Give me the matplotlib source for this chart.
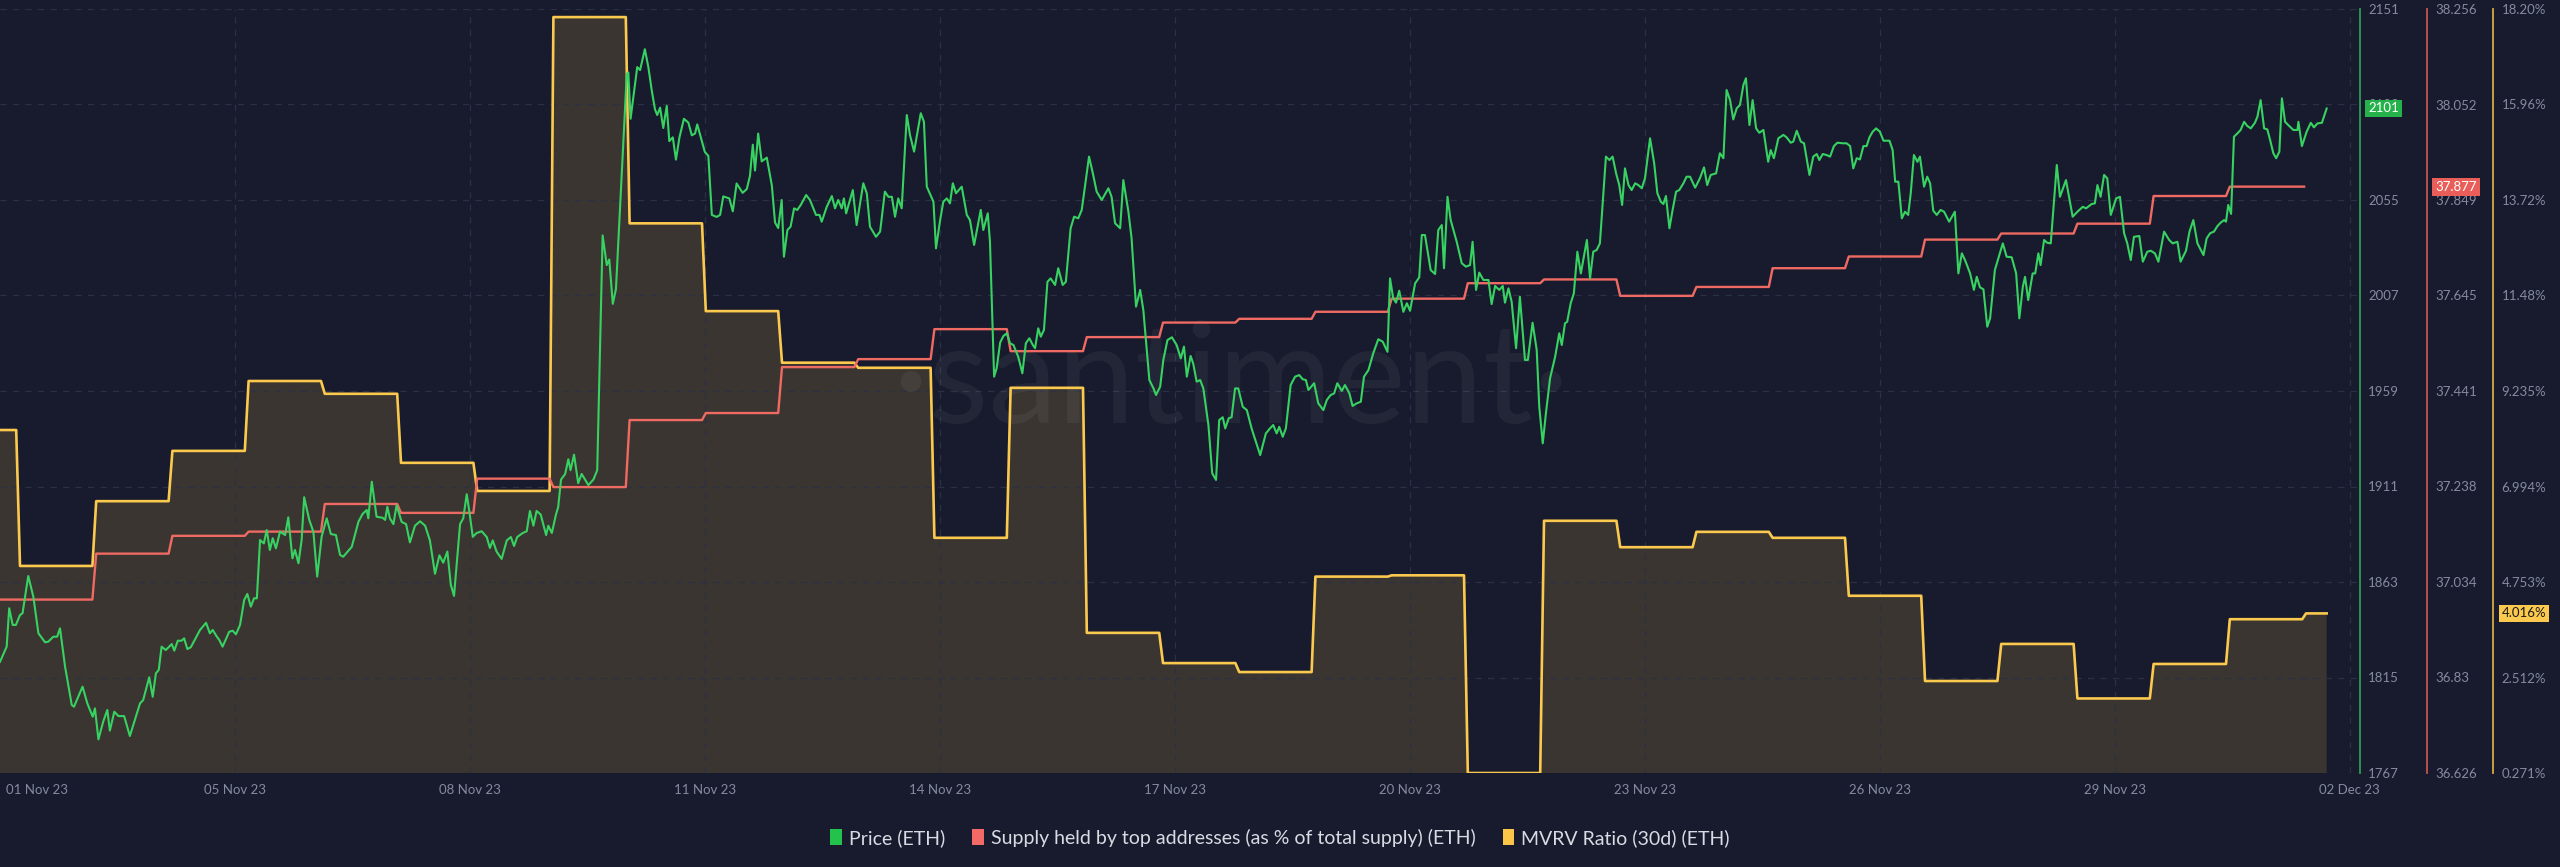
import numpy as np
import matplotlib
matplotlib.use("Agg")
import matplotlib.pyplot as plt
from matplotlib.patches import Patch

plt.rcParams['font.family'] = ['Lato', 'DejaVu Sans']

# ---------------- data ----------------
# ETH price (x = hours since chart start)
price_hours = [
    0.0, 2.1, 2.9, 4.0, 5.0, 6.3, 7.1, 8.9, 10.5, 12.1, 14.2, 15.2, 16.8, 18.0, 18.9, 20.5,
    22.6, 23.3, 26.0, 27.5, 29.2, 29.9, 31.0, 32.5, 33.8, 34.6, 36.0, 37.3, 39.1, 40.9, 44.1, 45.1,
    47.0, 48.1, 49.1, 50.0, 50.9, 52.2, 54.1, 54.9, 56.0, 57.2, 58.0, 59.0, 60.1, 63.0, 64.9, 66.1,
    67.0, 68.3, 69.1, 70.1, 72.2, 73.3, 74.3, 75.6, 76.9, 77.9, 79.0, 80.0, 80.9, 81.9, 83.1, 84.0,
    85.0, 85.9, 86.9, 88.2, 89.8, 90.8, 92.1, 92.9, 94.0, 95.0, 95.8, 97.4, 98.7, 99.9, 101.3, 102.9,
    104.2, 105.8, 107.1, 108.1, 110.8, 112.9, 114.2, 115.5, 116.0, 117.1, 118.6, 120.5, 121.3, 122.0, 122.8, 123.9,
    124.9, 126.5, 127.9, 129.1, 130.7, 132.3, 133.9, 135.4, 137.0, 138.4, 139.6, 140.9, 142.0, 143.0, 144.9, 145.9,
    147.0, 147.8, 148.9, 150.1, 151.7, 153.3, 154.3, 155.2, 156.4, 158.0, 159.6, 160.9, 161.9, 162.9, 164.6, 165.9,
    166.9, 168.0, 169.0, 170.3, 172.0, 172.7, 173.8, 175.1, 175.8, 176.7, 178.0, 179.0, 179.7, 180.8, 182.1, 183.2,
    185.3, 186.9, 188.1, 189.8, 191.1, 191.9, 193.0, 194.0, 197.4, 197.9, 198.6, 200.7, 201.6, 203.1, 204.2, 205.3,
    206.3, 207.0, 207.9, 208.9, 210.0, 210.8, 211.9, 212.9, 214.0, 215.4, 216.8, 217.9, 218.9, 219.6, 222.0, 223.1,
    224.2, 225.7, 226.8, 227.8, 229.7, 230.8, 232.0, 233.9, 235.2, 236.2, 237.1, 237.8, 238.8, 239.9, 241.5, 243.1,
    244.1, 245.1, 246.2, 246.9, 248.0, 249.0, 250.1, 251.1, 252.2, 253.9, 255.1, 257.0, 258.1, 258.8, 260.4, 262.0,
    263.0, 264.0, 265.1, 265.8, 266.5, 268.6, 269.8, 271.9, 273.0, 274.0, 275.9, 277.2, 278.7, 279.8, 280.9, 281.9,
    282.9, 284.0, 285.6, 286.6, 287.9, 290.0, 291.0, 291.9, 294.0, 294.8, 296.1, 297.1, 298.2, 299.2, 300.1, 301.1,
    302.9, 304.5, 305.5, 306.8, 308.9, 309.7, 311.1, 311.8, 313.1, 313.9, 315.0, 316.0, 317.1, 318.1, 319.2, 320.7,
    322.0, 323.1, 324.2, 325.3, 326.0, 327.0, 327.8, 328.8, 329.9, 330.9, 332.3, 333.3, 334.7, 335.7, 337.2, 338.3,
    339.6, 340.7, 343.0, 344.2, 345.4, 347.0, 349.1, 350.1, 351.2, 352.8, 353.8, 355.4, 356.4, 357.8, 359.1, 360.1,
    362.0, 363.3, 364.1, 365.4, 366.4, 367.7, 369.1, 370.6, 371.9, 372.9, 373.8, 375.0, 375.8, 376.9, 378.0, 379.0,
    380.6, 381.8, 383.0, 384.0, 385.1, 385.9, 387.0, 387.9, 389.0, 390.0, 391.4, 392.7, 394.2, 396.9, 398.7, 400.0,
    401.0, 402.1, 402.9, 404.0, 405.0, 406.5, 407.9, 409.2, 410.3, 411.3, 412.1, 413.9, 415.2, 416.8, 417.9, 419.1,
    420.2, 421.2, 422.6, 423.6, 425.0, 426.0, 427.3, 428.6, 429.6, 431.0, 432.5, 434.1, 435.5, 437.0, 437.8, 438.8,
    439.7, 440.7, 442.0, 443.1, 444.1, 445.7, 447.0, 447.8, 448.8, 450.6, 452.0, 453.0, 454.1, 454.8, 455.9, 456.9,
    458.8, 460.4, 461.7, 463.0, 463.8, 464.9, 465.9, 467.2, 468.8, 469.8, 470.9, 472.2, 473.3, 474.0, 475.1, 476.1,
    477.5, 478.7, 480.3, 481.2, 482.7, 484.0, 484.8, 485.9, 486.9, 488.2, 489.8, 491.1, 491.9, 492.9, 493.6, 494.7,
    495.7, 496.8, 497.9, 499.8, 500.8, 501.8, 502.9, 503.9, 505.8, 506.9, 507.9, 509.0, 510.0, 510.9, 511.8, 512.9,
    513.9, 515.0, 516.0, 517.1, 518.1, 519.7, 521.0, 522.0, 523.1, 523.9, 524.7, 525.8, 526.8, 527.9, 528.9, 530.2,
    531.2, 532.3, 533.9, 535.4, 536.7, 537.7, 538.8, 540.5, 541.7, 542.8, 543.8, 544.9, 545.9, 547.0, 548.0, 549.1,
    549.9, 551.0, 552.0, 553.1, 554.1, 555.4, 556.9, 557.7, 558.7, 560.1, 561.7, 562.7, 564.0, 564.8, 565.9, 567.2,
    568.2, 569.9, 571.1, 572.2, 573.0, 574.1, 575.3, 576.4, 577.6, 578.7, 580.4, 581.6, 582.7, 583.7, 584.8, 585.8,
    586.9, 587.9, 588.8, 589.8, 590.9, 592.1, 593.2, 595.1, 596.1, 596.9, 597.9, 599.0, 600.0, 601.0, 601.8, 602.8,
    603.9, 604.7, 606.0, 607.0, 607.9, 608.9, 610.0, 611.2, 612.3, 613.9, 615.7, 616.8, 617.9, 618.9, 620.5, 621.7,
    622.6, 623.6, 624.7, 625.9, 626.8, 628.3, 630.8, 632.0, 633.6, 635.0, 636.0, 637.1, 637.8, 638.8, 640.2, 641.0,
    642.0, 642.7, 643.8, 644.8, 645.9, 647.8, 648.8, 650.7, 652.8, 654.3, 656.0, 657.0, 658.8, 659.8, 660.6, 661.6,
    662.7, 663.7, 664.8, 666.5, 667.7, 669.0, 670.0, 671.1, 672.1, 673.8, 674.9, 676.3, 677.4, 678.7, 679.8, 681.6,
    683.2, 684.3, 685.8, 686.8, 688.5, 689.6, 690.8, 692.1, 694.0, 695.0, 696.1, 697.3, 698.4, 699.4, 700.5, 701.1,
    701.8, 702.7, 703.6, 704.7, 705.7, 706.8, 707.8, 708.9, 710.2, 711.0, 712.0, 713.1, 714.1, 715.0, 716.0, 716.9,
    717.9, 718.7, 719.7, 721.0, 722.3, 723.6, 723.9, 725.0, 726.5, 727.8, 728.8, 729.9, 731.3, 732.8,
]
price_usd = [
    1822.9, 1830.5, 1849.8, 1841.4, 1841.4, 1846.4, 1847.3, 1866.0, 1855.6, 1837.2, 1832.7, 1833.0, 1835.5, 1835.5, 1839.7, 1820.4,
    1801.2, 1800.3, 1810.4, 1802.0, 1795.3, 1799.5, 1783.9, 1792.8, 1798.7, 1788.3, 1797.8, 1795.6, 1795.6, 1785.6, 1802.0, 1803.7,
    1815.1, 1805.3, 1817.1, 1818.8, 1830.5, 1828.8, 1831.8, 1828.5, 1833.5, 1833.5, 1834.7, 1829.3, 1830.2, 1838.9, 1842.5, 1837.2,
    1838.9, 1835.5, 1833.8, 1830.5, 1838.0, 1838.5, 1836.7, 1841.4, 1853.9, 1857.0, 1850.6, 1854.8, 1854.8, 1884.1, 1882.4, 1889.1,
    1879.1, 1885.0, 1879.9, 1888.3, 1886.6, 1895.5, 1874.9, 1879.1, 1872.4, 1884.1, 1905.6, 1894.2, 1888.3, 1865.7, 1885.8, 1895.0,
    1887.1, 1886.6, 1876.6, 1875.7, 1880.7, 1893.3, 1897.2, 1899.2, 1895.0, 1913.4, 1895.8, 1895.3, 1894.2, 1900.8, 1895.0, 1892.1,
    1901.5, 1893.2, 1892.1, 1882.9, 1891.3, 1893.5, 1891.3, 1883.9, 1867.1, 1876.4, 1872.7, 1878.3, 1861.5, 1856.0, 1892.1, 1895.0,
    1907.1, 1898.7, 1885.7, 1887.6, 1888.5, 1885.6, 1880.1, 1883.9, 1878.3, 1874.6, 1883.9, 1885.6, 1881.1, 1885.6, 1887.6, 1888.5,
    1898.7, 1891.3, 1898.7, 1896.9, 1886.6, 1891.3, 1887.6, 1896.9, 1900.6, 1914.5, 1917.3, 1924.7, 1919.2, 1927.0, 1912.7, 1917.3,
    1911.7, 1914.5, 1919.2, 2037.2, 2022.3, 2025.1, 2002.8, 2010.3, 2118.1, 2119.1, 2095.8, 2121.8, 2120.3, 2130.8, 2121.8, 2109.8,
    2100.5, 2097.7, 2101.4, 2091.2, 2102.3, 2084.6, 2086.5, 2075.3, 2086.5, 2095.8, 2093.9, 2087.5, 2088.4, 2093.0, 2079.1, 2077.2,
    2047.5, 2046.5, 2047.5, 2056.8, 2055.8, 2049.3, 2063.3, 2058.6, 2060.5, 2067.1, 2082.8, 2069.8, 2088.4, 2074.4, 2076.3, 2062.3,
    2043.7, 2040.9, 2055.0, 2026.5, 2039.9, 2041.6, 2050.8, 2050.0, 2052.5, 2057.5, 2055.0, 2047.5, 2047.5, 2044.1, 2051.6, 2057.0,
    2050.8, 2055.0, 2050.8, 2055.8, 2048.3, 2060.0, 2042.4, 2063.4, 2058.4, 2041.6, 2036.5, 2039.1, 2059.2, 2056.6, 2056.6, 2046.6,
    2055.8, 2050.8, 2097.7, 2087.7, 2079.3, 2098.6, 2094.3, 2061.7, 2054.1, 2030.7, 2044.9, 2054.1, 2055.8, 2053.3, 2063.4, 2058.4,
    2061.7, 2047.5, 2044.9, 2032.4, 2050.0, 2039.9, 2048.3, 2034.0, 1966.2, 1970.4, 1983.3, 1986.6, 1988.0, 1983.0, 1982.1, 1976.2,
    1967.9, 1983.0, 1985.5, 1982.1, 1980.5, 1990.5, 1986.3, 1989.7, 2013.9, 2015.6, 2012.3, 2020.7, 2012.3, 2013.9, 2040.8, 2046.6,
    2045.8, 2050.0, 2076.8, 2068.4, 2059.2, 2055.0, 2060.9, 2056.6, 2043.3, 2040.8, 2065.0, 2049.1, 2035.7, 2001.4, 2009.8, 1999.7,
    1964.5, 1960.3, 1957.0, 1961.2, 1974.6, 1984.6, 1986.0, 1982.1, 1975.4, 1981.3, 1966.2, 1976.6, 1972.9, 1963.7, 1964.5, 1960.3,
    1941.9, 1917.6, 1914.3, 1944.4, 1945.8, 1940.2, 1945.3, 1945.8, 1960.3, 1960.3, 1951.1, 1949.4, 1940.2, 1926.8, 1937.7, 1940.2,
    1941.9, 1937.7, 1941.0, 1936.0, 1940.2, 1962.0, 1966.2, 1967.0, 1964.9, 1964.5, 1959.5, 1962.9, 1952.8, 1949.4, 1954.5, 1957.0,
    1957.8, 1962.9, 1959.1, 1962.0, 1957.8, 1951.5, 1952.8, 1953.6, 1966.2, 1969.5, 1977.9, 1985.0, 1983.8, 1978.7, 2015.6, 2005.6,
    2003.4, 2009.4, 1998.8, 2003.1, 1999.3, 2013.1, 2016.1, 2037.4, 2037.4, 2019.8, 2017.8, 2039.9, 2042.4, 2020.7, 2056.6, 2044.9,
    2034.0, 2023.2, 2021.5, 2022.3, 2034.0, 2009.8, 2018.5, 2014.8, 2014.8, 2002.7, 2011.8, 2009.8, 2011.8, 2003.4, 2010.6, 2003.9,
    1980.5, 2006.4, 1974.6, 1974.6, 1993.3, 1979.6, 1951.1, 1932.7, 1947.8, 1965.4, 1976.2, 1988.0, 1982.1, 1993.0, 1993.8, 2003.1,
    2008.1, 2029.0, 2018.1, 2034.9, 2015.6, 2029.0, 2029.9, 2033.2, 2076.8, 2075.1, 2076.8, 2068.4, 2062.5, 2052.5, 2070.9, 2062.5,
    2060.0, 2063.4, 2062.5, 2060.9, 2065.9, 2086.0, 2073.4, 2058.4, 2054.1, 2053.0, 2057.0, 2040.8, 2050.0, 2059.2, 2060.0, 2063.4,
    2066.7, 2066.7, 2061.2, 2065.9, 2071.4, 2062.5, 2067.6, 2068.4, 2078.5, 2076.0, 2110.3, 2105.2, 2095.5, 2101.1, 2102.7, 2112.8,
    2116.2, 2092.7, 2105.2, 2091.0, 2088.8, 2090.2, 2074.2, 2080.1, 2076.0, 2086.0, 2087.7, 2086.5, 2083.8, 2084.3, 2089.8, 2084.3,
    2083.5, 2067.6, 2076.8, 2078.1, 2075.1, 2078.1, 2077.6, 2076.8, 2082.1, 2083.8, 2083.5, 2083.5, 2082.1, 2070.9, 2076.0, 2075.4,
    2082.1, 2082.1, 2086.5, 2089.3, 2091.0, 2089.3, 2084.8, 2084.8, 2080.1, 2064.2, 2064.2, 2045.8, 2049.1, 2047.5, 2058.4, 2077.6,
    2074.2, 2076.8, 2061.7, 2066.7, 2063.4, 2049.6, 2047.5, 2050.0, 2049.1, 2044.1, 2049.1, 2018.1, 2028.2, 2024.8, 2018.1, 2009.8,
    2016.4, 2011.1, 2010.1, 1991.3, 1995.5, 2019.8, 2033.2, 2026.5, 2026.2, 2018.1, 1995.5, 2011.4, 2016.4, 2004.7, 2018.1, 2018.1,
    2028.2, 2022.3, 2034.9, 2033.5, 2033.2, 2072.6, 2056.6, 2065.0, 2046.6, 2049.1, 2051.6, 2050.8, 2053.0, 2053.3, 2062.5, 2056.6,
    2067.6, 2065.9, 2047.5, 2055.8, 2056.6, 2038.3, 2033.2, 2024.8, 2036.5, 2036.9, 2024.0, 2029.0, 2029.5, 2028.2, 2024.0, 2039.1,
    2034.9, 2033.2, 2034.0, 2024.0, 2029.5, 2039.1, 2044.9, 2033.2, 2027.3, 2035.7, 2038.3, 2039.1, 2041.9, 2043.6, 2044.9, 2044.1,
    2052.5, 2048.0, 2086.8, 2088.5, 2090.2, 2094.3, 2092.2, 2091.0, 2093.8, 2096.9, 2105.2, 2091.0, 2090.5, 2085.1, 2078.5, 2076.0,
    2079.3, 2106.1, 2094.3, 2092.2, 2090.2, 2090.2, 2094.3, 2082.1, 2089.3, 2093.8, 2091.5, 2093.5, 2093.8, 2101.0,
]

# daily values (one per day, first day only partly shown)
mvrv_30d = [8.32, 5.13, 6.65, 7.83, 9.47, 9.17, 7.55, 6.89, 18.01, 13.17, 11.11, 9.90,
            9.78, 5.79, 9.31, 3.56, 2.85, 2.64, 4.88, 4.91, 0.27, 6.19, 5.57, 5.93,
            5.79, 4.43, 2.43, 3.30, 2.02, 2.83, 3.88, 4.016]
supply_top = [36.996, 36.996, 37.094, 37.132, 37.141, 37.200, 37.181, 37.254, 37.236, 37.379,
              37.394, 37.492, 37.509, 37.573, 37.526, 37.556, 37.587, 37.595, 37.610, 37.638,
              37.671, 37.679, 37.644, 37.663, 37.703, 37.728, 37.764, 37.777, 37.798, 37.857,
              37.877]

day_edges = 6.3 + 24 * np.arange(31)     # hours at which the daily values change
price_end = 732.8
supply_end = 725.7

x_ticks = [11.7, 74, 148, 222, 296, 370, 444, 518, 592, 666, 740]
x_labels = ['01 Nov 23', '05 Nov 23', '08 Nov 23', '11 Nov 23', '14 Nov 23', '17 Nov 23',
            '20 Nov 23', '23 Nov 23', '26 Nov 23', '29 Nov 23', '02 Dec 23']

price_ticks = [1767, 1815, 1863, 1911, 1959, 2007, 2055, 2103, 2151]
supply_labels = ['36.626', '36.83', '37.034', '37.238', '37.441', '37.645', '37.849', '38.052', '38.256']
mvrv_labels = ['0.271%', '2.512%', '4.753%', '6.994%', '9.235%', '11.48%', '13.72%', '15.96%', '18.20%']
supply_ticks = [float(s) for s in supply_labels]
mvrv_ticks = [float(s.rstrip('%')) for s in mvrv_labels]

# ---------------- style ----------------
BG = '#181b2d'
FILL = '#3a3530'
GRID = '#2b3045'
TXT = '#858a9f'
GREEN = '#38d262'
RED = '#ef6a62'
YEL = '#fbc94e'


def daily_steps(values, end):
    starts = np.concatenate([[0.0], day_edges])[:len(values)]
    ends = np.append(starts[1:] - 1.2, end)
    xs = np.column_stack([starts, ends]).ravel()
    ys = np.repeat(values, 2)
    return xs, ys


fig = plt.figure(figsize=(25.6, 8.67), dpi=100, facecolor=BG)
ax_m = fig.add_axes([0, 0.10842, 0.921875, 0.8812])
ax_m.set_facecolor(BG)
ax_s = ax_m.twinx()
ax_p = ax_m.twinx()

# MVRV (filled area)
mx, my = daily_steps(mvrv_30d, price_end)
ax_m.fill_between(mx, -5, my, color=FILL, lw=0, zorder=1)
ax_m.plot(mx, my, color=YEL, lw=1.9, zorder=3)
ax_m.set_xlim(0, 743.3)
ax_m.set_ylim(mvrv_ticks[0], mvrv_ticks[-1])

# supply held by top addresses
sx, sy = daily_steps(supply_top, supply_end)
ax_s.plot(sx, sy, color=RED, lw=1.7)
ax_s.set_ylim(supply_ticks[0], supply_ticks[-1])

# price
ax_p.plot(price_hours, price_usd, color=GREEN, lw=1.5)
ax_p.set_ylim(price_ticks[0], price_ticks[-1])

# watermark
ax_m.text(0.5216, 0.458, '\u00b7santiment\u00b7', transform=ax_m.transAxes, ha='center',
          va='baseline', fontsize=100, color='white', alpha=0.05, zorder=2)

# grid
ax_m.set_yticks(mvrv_ticks, mvrv_labels)
ax_m.grid(True, axis='y', color=GRID, ls=(0, (5, 5)), lw=0.9)
for xt in x_ticks[1:]:
    ax_m.axvline(xt, color=GRID, ls=(0, (5, 5)), lw=0.9, zorder=1.5)

ax_m.set_xticks(x_ticks, x_labels)
ax_m.tick_params(axis='x', length=0, pad=8, labelsize=9.5, labelcolor=TXT)

# right-hand axes
ax_m.yaxis.tick_right()
ax_p.set_yticks(price_ticks, [str(p) for p in price_ticks])
ax_s.set_yticks(supply_ticks, supply_labels)

spine_setup = [(ax_p, 1.0, '#2e9c56'), (ax_s, 1.0284, '#c9534f'), (ax_m, 1.0564, '#d6aa45')]
for a, pos, col in spine_setup:
    for side in ('top', 'left', 'bottom'):
        a.spines[side].set_visible(False)
    a.spines['right'].set_position(('axes', pos))
    a.spines['right'].set_color(col)
    a.spines['right'].set_linewidth(1.3)
    a.tick_params(axis='y', length=0, pad=6, labelsize=9.5, labelcolor=TXT)


def badge(ax, xfrac, value, text, fc, tc):
    ax.annotate(text, xy=(xfrac, value), xycoords=('axes fraction', 'data'),
                xytext=(6, 0), textcoords='offset points', ha='left', va='center',
                fontsize=9.5, color=tc, annotation_clip=False, zorder=10,
                bbox=dict(boxstyle='square,pad=0.22', fc=fc, ec='none'))


badge(ax_p, 1.0, price_usd[-1], '%d' % round(price_usd[-1]), '#26b24b', 'white')
badge(ax_s, 1.0284, supply_top[-1], '%.3f' % supply_top[-1], '#e95e58', 'white')
badge(ax_m, 1.0564, mvrv_30d[-1], '%.3f%%' % mvrv_30d[-1], '#fbc94e', '#1a1a1a')

# legend
handles = [Patch(facecolor='#25c14d', edgecolor='none'),
           Patch(facecolor='#f26a65', edgecolor='none'),
           Patch(facecolor='#fbc547', edgecolor='none')]
labels = ['Price (ETH)', 'Supply held by top addresses (as % of total supply) (ETH)',
          'MVRV Ratio (30d) (ETH)']
fig.legend(handles, labels, loc='center', bbox_to_anchor=(0.5, 0.0334), ncol=3,
           frameon=False, fontsize=14, labelcolor='#d8dbe3', handlelength=0.6,
           handleheight=0.9, handletextpad=0.35, columnspacing=1.4)

fig.savefig('out.png', dpi=100, facecolor=BG)
